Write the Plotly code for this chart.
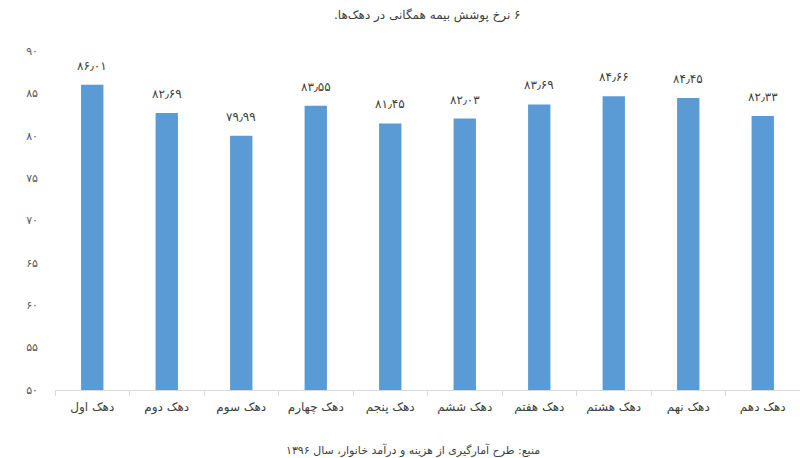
import plotly.graph_objects as go

categories = ["دهک اول", "دهک دوم", "دهک سوم", "دهک چهارم", "دهک پنجم",
              "دهک ششم", "دهک هفتم", "دهک هشتم", "دهک نهم", "دهک دهم"]
values = [86.01, 82.69, 79.99, 83.55, 81.45, 82.03, 83.69, 84.66, 84.45, 82.33]
y_ticks = [50, 55, 60, 65, 70, 75, 80, 85, 90]

title_text = "۶ نرخ پوشش بیمه همگانی در دهک‌ها."
source_text = "منبع: طرح آمارگیری از هزینه و درآمد خانوار، سال ۱۳۹۶"

FA = str.maketrans("0123456789", "۰۱۲۳۴۵۶۷۸۹")


def fa_num(v, decimals=None):
    s = f"{v:.{decimals}f}" if decimals is not None else str(v)
    return s.translate(FA).replace(".", "٫")


def rtl(s):
    return "\u202b" + s + "\u202c"


FONT = "DejaVu Sans"

fig = go.Figure()
fig.add_trace(go.Bar(
    x=categories, y=values,
    marker=dict(color="#5B9BD5", line=dict(width=0)),
    hoverinfo="skip",
))

for c, v in zip(categories, values):
    fig.add_annotation(x=c, y=v, text=fa_num(v, 2), showarrow=False,
                       yanchor="bottom", yshift=10,
                       font=dict(family=FONT, size=12, color="#404040"))

fig.add_annotation(xref="paper", yref="paper", x=0.5, y=1, yshift=36,
                   text=rtl(title_text), showarrow=False, yanchor="middle",
                   font=dict(family=FONT, size=12, color="#404040"))
fig.add_annotation(xref="paper", yref="paper", x=0.48, y=0, yshift=-60,
                   text=rtl(source_text), showarrow=False, yanchor="middle",
                   font=dict(family=FONT, size=11, color="#404040"))

fig.update_layout(
    width=800, height=458,
    margin=dict(l=55, r=0, t=51, b=68),
    paper_bgcolor="white", plot_bgcolor="white",
    bargap=0.7,
    showlegend=False,
    font=dict(family=FONT),
)
fig.update_xaxes(
    showline=True, linecolor="#d9d9d9", linewidth=1,
    ticks="outside", tickson="boundaries", ticklen=5, tickcolor="#d9d9d9",
    tickfont=dict(family=FONT, size=12, color="#404040"),
    ticklabelstandoff=6,
    showgrid=False,
)
fig.update_yaxes(
    range=[50, 90], tickvals=y_ticks, ticktext=[fa_num(t) for t in y_ticks],
    showgrid=False, zeroline=False, showline=False,
    tickfont=dict(family=FONT, size=11, color="#595959"),
    ticklabelstandoff=16,
)

fig.write_html("out.html",
               config={"displayModeBar": False},
               post_script="document.body.style.margin='0';document.body.style.overflow='hidden';")
